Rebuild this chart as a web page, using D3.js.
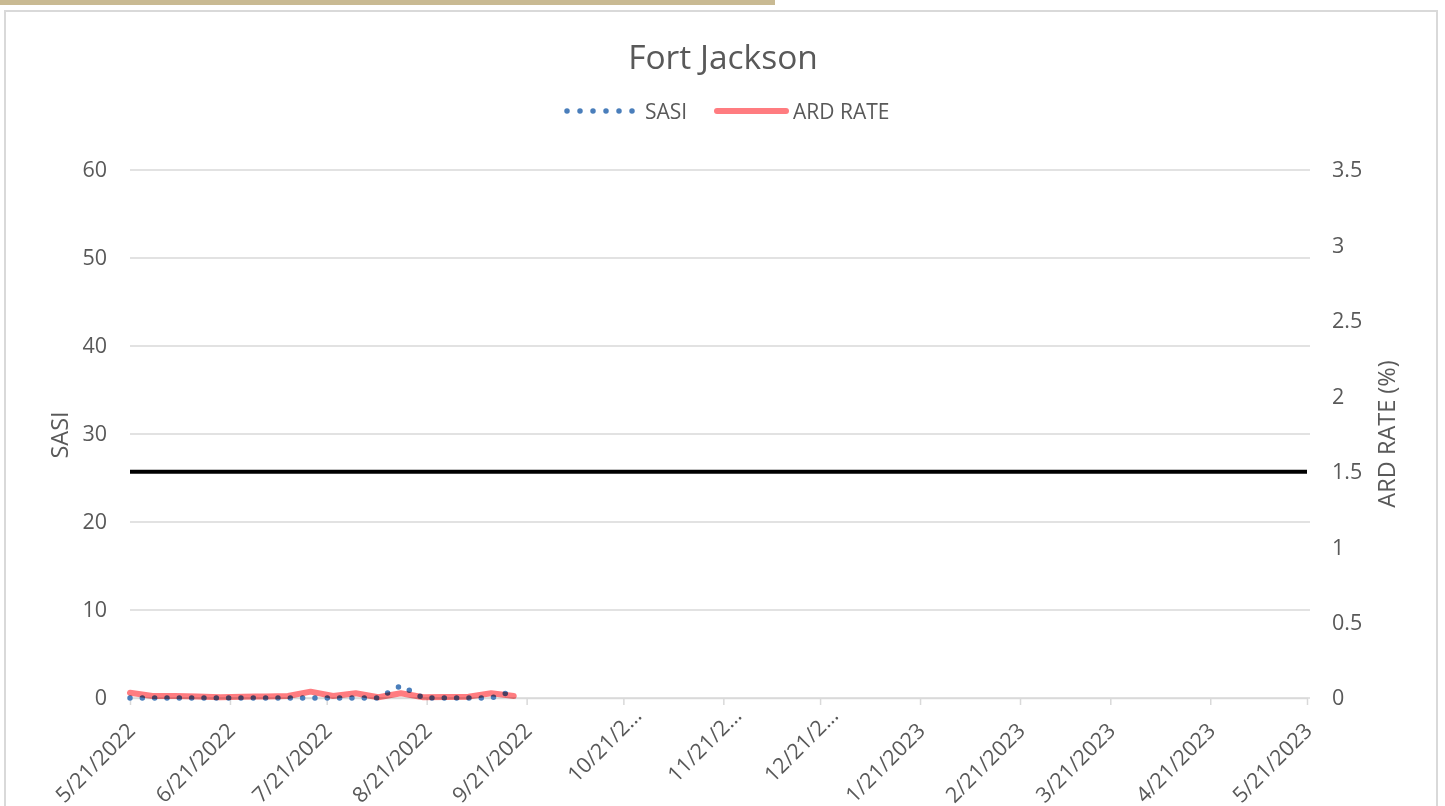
<!DOCTYPE html>
<html>
<head>
<meta charset="utf-8">
<script src="https://cdn.jsdelivr.net/npm/d3@7.9.0/dist/d3.min.js"></script>
<style>
  body { margin: 0; background: #fff; }
  svg { display: block; font-family: "Open Sans", "Noto Sans", sans-serif; }
</style>
</head>
<body>
<div id="chart"></div>
<script>
// weekly readings
const weekDates = [
  "2022-05-21", "2022-05-28", "2022-06-04", "2022-06-11", "2022-06-18", "2022-06-25",
  "2022-07-02", "2022-07-09", "2022-07-16", "2022-07-23", "2022-07-30", "2022-08-06",
  "2022-08-13", "2022-08-20", "2022-08-27", "2022-09-03", "2022-09-10", "2022-09-17"
];
const sasiValues = [0, 0, 0, 0, 0, 0, 0, 0, 0, 0, 0, 0, 1.4, 0, 0, 0, 0, 0.8];
const ardValues = [0.035, 0.013, 0.013, 0.01, 0.005, 0.009, 0.01, 0.013, 0.042, 0.013,
  0.031, 0.005, 0.031, 0.005, 0.007, 0.009, 0.031, 0.013];

// threshold line on the ARD axis
const thresholdDates = ["2022-05-21", "2023-05-21"];
const thresholdValues = [1.5, 1.5];

const xTickDates = [
  "2022-05-21", "2022-06-21", "2022-07-21", "2022-08-21", "2022-09-21", "2022-10-21",
  "2022-11-21", "2022-12-21", "2023-01-21", "2023-02-21", "2023-03-21", "2023-04-21", "2023-05-21"
];
const xTickLabels = [
  "5/21/2022", "6/21/2022", "7/21/2022", "8/21/2022", "9/21/2022", "10/21/2\u2026",
  "11/21/2\u2026", "12/21/2\u2026", "1/21/2023", "2/21/2023", "3/21/2023", "4/21/2023", "5/21/2023"
];
const sasiTicks = [0, 10, 20, 30, 40, 50, 60];
const ardTicks = [0, 0.5, 1, 1.5, 2, 2.5, 3, 3.5];

const W = 1445, H = 806;
const plot = { left: 130, right: 1307, top: 170, bottom: 698 };
const textColor = "#595959";
const gridColor = "#d9d9d9";
const tickFont = "21.5px";

const parse = d3.utcParse("%Y-%m-%d");

const x = d3.scaleUtc()
  .domain([parse("2022-05-21"), parse("2023-05-21")])
  .range([plot.left, plot.right]);
const ySasi = d3.scaleLinear().domain([0, 60]).range([plot.bottom, plot.top]);
const yArd = d3.scaleLinear().domain([0, 3.5]).range([plot.bottom, plot.top]);

const svg = d3.select("#chart").append("svg")
  .attr("width", W)
  .attr("height", H);

// gold strip + chart frame
svg.append("rect")
  .attr("x", 0).attr("y", 0)
  .attr("width", 775).attr("height", 5)
  .attr("fill", "#c9ba93");
svg.append("rect")
  .attr("x", 5).attr("y", 11)
  .attr("width", 1432).attr("height", 820)
  .attr("fill", "#fff")
  .attr("stroke", gridColor)
  .attr("stroke-width", 2);

// title
svg.append("text")
  .attr("x", 723).attr("y", 69)
  .attr("text-anchor", "middle")
  .attr("fill", textColor)
  .style("font-size", "33.5px")
  .text("Fort Jackson");

// gridlines
svg.append("g")
  .selectAll("line")
  .data(sasiTicks)
  .enter().append("line")
  .attr("x1", plot.left)
  .attr("x2", plot.right + 3)
  .attr("y1", d => ySasi(d))
  .attr("y2", d => ySasi(d))
  .attr("stroke", gridColor)
  .attr("stroke-width", 1.3);

// left axis
const leftAxis = svg.append("g")
  .attr("transform", `translate(${plot.left},0)`)
  .call(d3.axisLeft(ySasi).tickValues(sasiTicks).tickSize(0).tickPadding(23));
leftAxis.select(".domain").remove();
leftAxis.selectAll("text")
  .attr("fill", textColor)
  .style("font-size", tickFont)
  .style("font-family", "Open Sans");

// right axis
const rightAxis = svg.append("g")
  .attr("transform", `translate(${plot.right},0)`)
  .call(d3.axisRight(yArd).tickValues(ardTicks).tickSize(0).tickPadding(25).tickFormat(d => String(d)));
rightAxis.select(".domain").remove();
rightAxis.selectAll("text")
  .attr("fill", textColor)
  .style("font-size", tickFont)
  .style("font-family", "Open Sans");

// bottom axis
const tickDates = xTickDates.map(parse);
const bottomAxis = svg.append("g")
  .attr("transform", `translate(0,${plot.bottom})`)
  .call(d3.axisBottom(x).tickValues(tickDates).tickSizeInner(7).tickSizeOuter(0)
    .tickFormat((d, i) => xTickLabels[i]));
bottomAxis.select(".domain")
  .attr("stroke", gridColor)
  .attr("stroke-width", 1.5);
bottomAxis.selectAll(".tick line")
  .attr("stroke", gridColor)
  .attr("stroke-width", 1.5);
bottomAxis.selectAll("text")
  .attr("fill", textColor)
  .style("font-size", tickFont)
  .style("font-family", "Open Sans")
  .attr("text-anchor", "end")
  .attr("y", 0)
  .attr("dy", 0)
  .attr("transform", (d, i) => xTickLabels[i].endsWith("\u2026")
    ? "translate(19,19) rotate(-45)"
    : "translate(6,34) rotate(-45)");

// axis titles
svg.append("text")
  .attr("transform", "translate(68,435) rotate(-90)")
  .attr("text-anchor", "middle")
  .attr("fill", textColor)
  .style("font-size", "23.5px")
  .text("SASI");
svg.append("text")
  .attr("transform", "translate(1395,434) rotate(-90)")
  .attr("text-anchor", "middle")
  .attr("fill", textColor)
  .style("font-size", "23.5px")
  .text("ARD RATE (%)");

// threshold
const thresholdLine = d3.line()
  .x(d => x(parse(d[0])))
  .y(d => yArd(d[1]));
svg.append("path")
  .datum(thresholdDates.map((d, i) => [d, thresholdValues[i]]))
  .attr("d", thresholdLine)
  .attr("fill", "none")
  .attr("stroke", "#000")
  .attr("stroke-width", 4);

// SASI dotted
const sasiLine = d3.line()
  .x(d => x(parse(d[0])))
  .y(d => ySasi(d[1]));
svg.append("path")
  .datum(weekDates.map((d, i) => [d, sasiValues[i]]))
  .attr("d", sasiLine)
  .attr("fill", "none")
  .attr("stroke", "#4a7ebb")
  .attr("stroke-width", 5.5)
  .attr("stroke-linecap", "round")
  .attr("stroke-dasharray", "0 12.33");

// ARD RATE
const ardLine = d3.line()
  .x(d => x(parse(d[0])))
  .y(d => yArd(d[1]));
svg.append("path")
  .datum(weekDates.map((d, i) => [d, ardValues[i]]))
  .attr("d", ardLine)
  .attr("fill", "none")
  .attr("stroke", "#ff7c80")
  .attr("stroke-width", 6)
  .attr("stroke-linecap", "round")
  .attr("stroke-linejoin", "round")
  .style("mix-blend-mode", "multiply");

// legend
const legend = svg.append("g");
legend.append("line")
  .attr("x1", 567).attr("x2", 633)
  .attr("y1", 111).attr("y2", 111)
  .attr("stroke", "#4a7ebb")
  .attr("stroke-width", 5.5)
  .attr("stroke-linecap", "round")
  .attr("stroke-dasharray", "0 13");
legend.append("text")
  .attr("x", 645).attr("y", 118.5)
  .attr("fill", textColor)
  .style("font-size", "21px")
  .text("SASI");
legend.append("line")
  .attr("x1", 717).attr("x2", 786)
  .attr("y1", 111).attr("y2", 111)
  .attr("stroke", "#ff7c80")
  .attr("stroke-width", 6)
  .attr("stroke-linecap", "round");
legend.append("text")
  .attr("x", 793).attr("y", 118.5)
  .attr("fill", textColor)
  .style("font-size", "21px")
  .text("ARD RATE");
</script>
</body>
</html>
